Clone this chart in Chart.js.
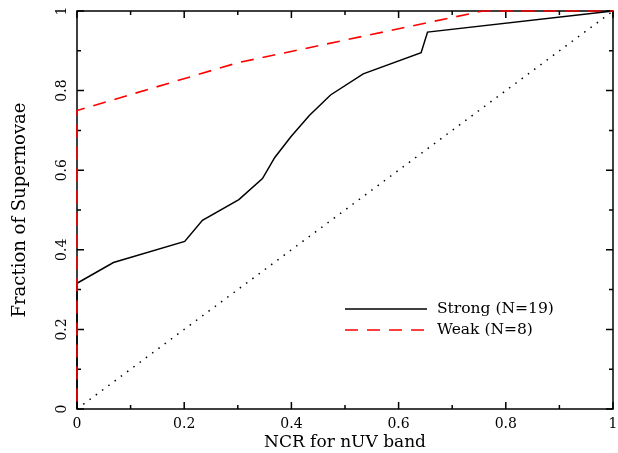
<!DOCTYPE html>
<html>
<head>
<meta charset="utf-8">
<title>Fraction of Supernovae vs NCR</title>
<script src="https://cdn.jsdelivr.net/npm/chart.js@4.4.1/dist/chart.umd.min.js"></script>
<style>
  html, body { margin: 0; padding: 0; background: #fff; }
</style>
</head>
<body>
<canvas id="myChart" width="618" height="453"></canvas>
<script>
// strong line, cumulative fraction (N=19)
const strongNcr  = [0, 0, 0.068, 0.201, 0.234, 0.302, 0.346, 0.369, 0.399, 0.433, 0.473, 0.534, 0.642, 0.654, 1];
const strongFrac = [0, 0.316, 0.368, 0.421, 0.474, 0.526, 0.579, 0.632, 0.684, 0.737, 0.789, 0.842, 0.895, 0.947, 1];
// weak line (N=8)
const weakNcr  = [0, 0, 0.3, 0.757, 1];
const weakFrac = [0, 0.75, 0.87, 1, 1];
// one-to-one line
const diagNcr  = [0, 1];
const diagFrac = [0, 1];

const tickValues = [0, 0.2, 0.4, 0.6, 0.8, 1];
const tickLabels = ['0', '0.2', '0.4', '0.6', '0.8', '1'];
const minorTicks = [0.1, 0.3, 0.5, 0.7, 0.9];

const seriesLabels = ['Strong (N=19)', 'Weak (N=8)'];

function pts(xs, ys) {
    return xs.map((v, i) => ({ x: v, y: ys[i] }));
}

//frame and inward tick marks on all 4 sides
const frameTicks = {
    id: 'frameTicks',
    beforeDatasetsDraw(chart) {
        const { ctx, chartArea: a, scales: { x, y } } = chart;
        ctx.save();
        ctx.strokeStyle = '#000';
        ctx.lineWidth = 1.5;
        ctx.strokeRect(a.left, a.top, a.right - a.left, a.bottom - a.top);
        ctx.beginPath();
        tickValues.concat(minorTicks).forEach(v => {
            const len = tickValues.includes(v) ? 7 : 4;
            const px = x.getPixelForValue(v), py = y.getPixelForValue(v);
            ctx.moveTo(px, a.bottom); ctx.lineTo(px, a.bottom - len);
            ctx.moveTo(px, a.top); ctx.lineTo(px, a.top + len);
            ctx.moveTo(a.left, py); ctx.lineTo(a.left + len, py);
            ctx.moveTo(a.right, py); ctx.lineTo(a.right - len, py);
        });
        ctx.stroke();
        ctx.restore();
    }
};

//legend inside the plot, lower right
const insideLegend = {
    id: 'insideLegend',
    afterDraw(chart) {
        const { ctx } = chart;
        ctx.save();
        ctx.font = '15.5px "DejaVu Serif"';
        ctx.textBaseline = 'middle';
        ctx.fillStyle = '#000';
        seriesLabels.forEach((lab, i) => {
            const d = chart.data.datasets.find(ds => ds.label === lab);
            const yy = 309 + i * 21;
            ctx.strokeStyle = d.borderColor;
            ctx.lineWidth = d.borderWidth;
            ctx.setLineDash(d.borderDash || []);
            ctx.beginPath();
            ctx.moveTo(345, yy);
            ctx.lineTo(427, yy);
            ctx.stroke();
            ctx.fillText(lab, 437, yy);
        });
        ctx.restore();
    }
};

var ctx = document.getElementById('myChart').getContext('2d');
var chart = new Chart(ctx, {
    type: 'line',
    data: {
        datasets: [{
            label: seriesLabels[1],
            data: pts(weakNcr, weakFrac),
            borderColor: '#ff0000',
            borderWidth: 1.6,
            borderDash: [13, 9],
            borderDashOffset: 14.5,
            clip: 4,
            order: 0
        }, {
            label: seriesLabels[0],
            data: pts(strongNcr, strongFrac),
            borderColor: '#000000',
            borderWidth: 1.5,
            clip: 4,
            order: 1
        }, {
            label: 'one-to-one',
            data: pts(diagNcr, diagFrac),
            borderColor: '#000000',
            borderWidth: 1.5,
            borderDash: [1.5, 6.3],
            order: 2
        }]
    },
    options: {
        responsive: false,
        animation: false,
        parsing: false,
        elements: { point: { radius: 0 }, line: { tension: 0, fill: false } },
        layout: { padding: { top: 11, right: 5, left: 0, bottom: 0 } },
        plugins: { legend: { display: false }, tooltip: { enabled: false } },
        scales: {
            x: {
                type: 'linear', min: 0, max: 1,
                grid: { display: false, drawTicks: false },
                border: { display: false },
                afterBuildTicks: s => { s.ticks = tickValues.map(v => ({ value: v })); },
                afterFit: s => { s.height = 44; s.paddingLeft = 0; s.paddingRight = 0; },
                ticks: {
                    autoSkip: false, maxRotation: 0, padding: 7, color: '#000',
                    font: { family: 'DejaVu Serif', size: 14 },
                    callback: v => tickLabels[tickValues.indexOf(v)]
                },
                title: {
                    display: true, text: 'NCR for nUV band', color: '#000',
                    font: { family: 'DejaVu Serif', size: 17 },
                    padding: { top: 0, bottom: 0 }
                }
            },
            y: {
                type: 'linear', min: 0, max: 1,
                grid: { display: false, drawTicks: false },
                border: { display: false },
                afterBuildTicks: s => { s.ticks = tickValues.map(v => ({ value: v })); },
                afterFit: s => { s.width = 77; s.paddingTop = 0; s.paddingBottom = 0; },
                ticks: {
                    autoSkip: false, minRotation: 90, maxRotation: 90,
                    crossAlign: 'center', padding: 4, color: '#000',
                    font: { family: 'DejaVu Serif', size: 14 },
                    callback: v => tickLabels[tickValues.indexOf(v)]
                },
                title: {
                    display: true, text: 'Fraction of Supernovae', color: '#000',
                    font: { family: 'DejaVu Serif', size: 18 },
                    padding: { top: 10, bottom: 0 }
                }
            }
        }
    },
    plugins: [frameTicks, insideLegend]
});
</script>
</body>
</html>
